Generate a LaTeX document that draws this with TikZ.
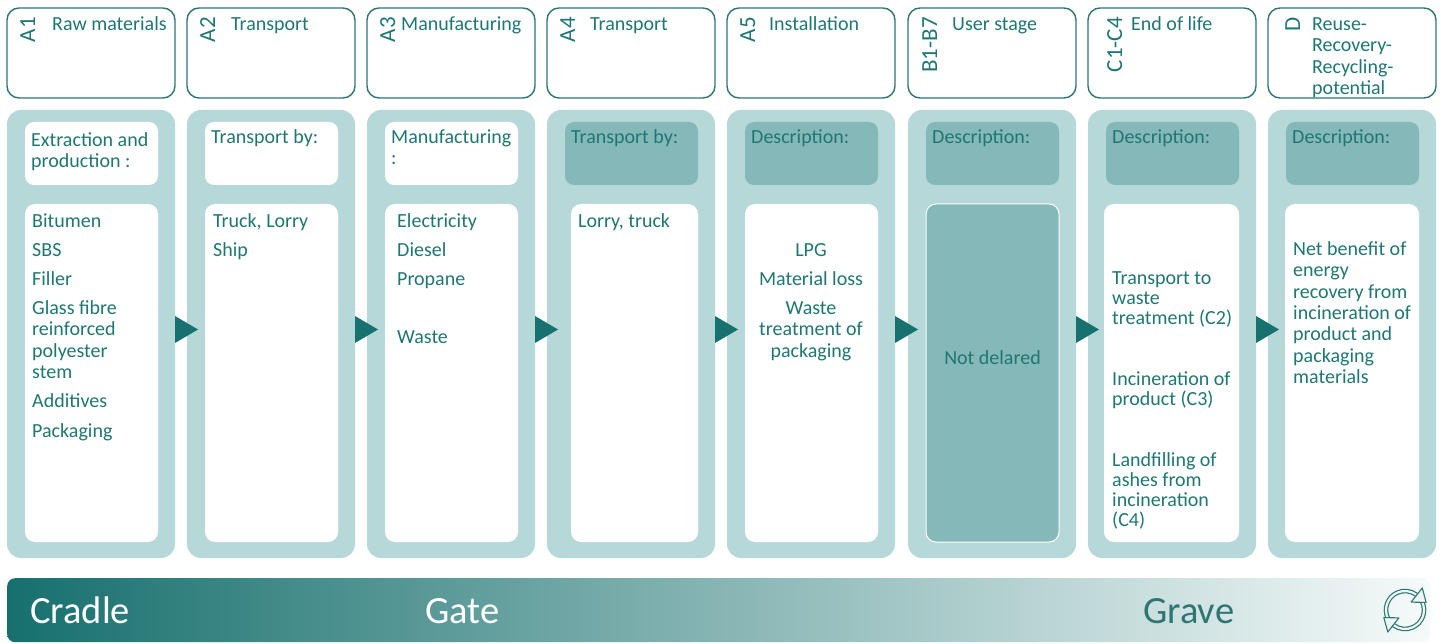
\documentclass[tikz,border=0pt]{standalone}
\usepackage{fontspec}
\setmainfont{Carlito}
\usetikzlibrary{calc}
\definecolor{tealtxt}{HTML}{1F7773}
\definecolor{tealline}{HTML}{2E7673}
\definecolor{panelc}{HTML}{B7D8D8}
\definecolor{darkbox}{HTML}{85B8B8}
\definecolor{arrowc}{HTML}{17716E}
\definecolor{barleft}{HTML}{17706E}
\definecolor{barright}{HTML}{F6FAFA}
\definecolor{iconbg}{HTML}{EEF5F5}
\newcommand\fsz{\fontsize{20}{21.3}\selectfont}
\newcommand\fszc{\fontsize{20}{20.2}\selectfont}
\newcommand\fsr{\fontsize{23}{24}\selectfont}
\newcommand\fsb{\fontsize{38.5}{40}\selectfont}
\begin{document}
\begin{tikzpicture}[x=1pt,y=-1pt,
  hdr/.style={draw=tealline, line width=1.4pt, fill=white, rounded corners=12pt,
    minimum width=168pt, minimum height=90pt, inner sep=0pt, outer sep=0pt, anchor=north west},
  panel/.style={fill=panelc, rounded corners=14pt, minimum width=168pt, minimum height=448pt,
    inner sep=0pt, outer sep=0pt, anchor=north west},
  tbox/.style={rounded corners=9pt, minimum width=133pt, minimum height=63pt,
    inner sep=0pt, outer sep=0pt, anchor=north west},
  cbox/.style={rounded corners=10pt, minimum height=338pt,
    inner sep=0pt, outer sep=0pt, anchor=north west},
  txt/.style={font=\fsz, text=tealtxt, inner sep=0pt, align=left, anchor=north west},
  rlab/.style={font=\fsr, text=tealtxt, inner sep=0pt, rotate=90, anchor=base east},
  bigtxt/.style={font=\fsb, inner sep=0pt, anchor=base west},
  tri/.style={fill=arrowc}
]
\useasboundingbox (0,0) rectangle (1444,644);
\fill[white] (0,0) rectangle (1444,644);

% headers, panels, boxes
\foreach \i/\L/\tf/\co/\cf/\cd in {1/7/white/18/white/none, 2/187/white/18/white/none,
   3/367/white/18/white/none, 4/547/darkbox/24/white/none, 5/727/darkbox/18/white/none,
   6/908/darkbox/18/darkbox/white, 7/1088/darkbox/16/white/none, 8/1268/darkbox/17/white/none}{
  \node[hdr] (h\i) at (\L,8) {};
  \node[panel] (p\i) at (\L,110) {};
  \node[tbox, fill=\tf] (t\i) at (\L+18,122) {};
  \pgfmathsetmacro{\cw}{151-\co}
  \node[cbox, fill=\cf, draw=\cd, line width=1pt, minimum width=\cw pt] (c\i) at (\L+\co,204) {};
}

% arrows between panels
\foreach \i [evaluate=\i as \j using int(\i+1)] in {1,...,7}{
  \fill[tri] ($(p\i.east)+(0,-4.5)$) coordinate (a\i) ++(0,-13.5) -- ++(23,13.5) -- ++(-23,13.5) -- cycle;
}

% header labels
\node[rlab] (r1) at (35,17) {A1};
\node[rlab] (r2) at (215,17) {A2};
\node[rlab] (r3) at (395,17) {A3};
\node[rlab] (r4) at (575,17) {A4};
\node[rlab] (r5) at (755,17) {A5};
\node[rlab] (r6) at (937,17) {B1-B7};
\node[rlab] (r7) at (1122,17) {C1-C4};
\node[rlab] (r8) at (1300,17) {D};

\node[txt] (n1) at (52,15.4) {\strut Raw materials};
\node[txt] (n2) at (231,15.4) {\strut Transport};
\node[txt] (n3) at (401,15.4) {\strut Manufacturing};
\node[txt] (n4) at (590,15.4) {\strut Transport};
\node[txt] (n5) at (769,15.4) {\strut Installation};
\node[txt] (n6) at (952,15.4) {\strut User stage};
\node[txt] (n7) at (1131,15.4) {\strut End of life};
\node[txt] (n8) at (1312,15.5) {\strut Reuse-\\Recovery-\\Recycling-\\potential};

% title box texts
\node[txt] (d1) at (31,131.5) {\strut Extraction and\\production :};
\node[txt] (d2) at (211,128.5) {\strut Transport by:};
\node[txt] (d3) at (391,128.5) {\strut Manufacturing\\:};
\node[txt] (d4) at (571,128.5) {\strut Transport by:};
\node[txt] (d5) at (751,128.5) {\strut Description:};
\node[txt] (d6) at (932,128.5) {\strut Description:};
\node[txt] (d7) at (1112,128.5) {\strut Description:};
\node[txt] (d8) at (1292,128.5) {\strut Description:};

% content texts
\node[txt] (e1) at (32,212.5) {\strut Bitumen\\[7.7pt]SBS\\[7.7pt]Filler\\[7.7pt]Glass fibre\\reinforced\\polyester\\stem\\[7.7pt]Additives\\[8.5pt]Packaging};
\node[txt] (e2) at (213,212.5) {\strut Truck, Lorry\\[7.7pt]Ship};
\node[txt] (e3) at (397,212.5) {\strut Electricity\\[7.7pt]Diesel\\[7.7pt]Propane\\[7.7pt]\\[7.7pt]Waste};
\node[txt] (e4) at (578,212.5) {\strut Lorry, truck};
\node[txt, align=center, anchor=north] (e5) at (811,241.5) {\strut LPG\\[7.7pt]Material loss\\[7.7pt]Waste\\treatment of\\packaging};
\node[txt, anchor=base] (e6) at (c6.center |- 0,365) {Not delared};
\node[txt, font=\fszc] (e7) at (1112,269.9) {\strut Transport to\\waste\\treatment (C2)\\ \\ \\Incineration of\\product (C3)\\ \\ \\Landfilling of\\ashes from\\incineration\\(C4)};
\node[txt] (e8) at (1293,240.5) {\strut Net benefit of\\energy\\recovery from\\incineration of\\product and\\packaging\\materials};

% bottom bar
\node[anchor=north west, minimum width=1423pt, minimum height=64pt, inner sep=0pt,
  rounded corners=8pt, left color=barleft, right color=barright] (bar) at (7,578) {};
\node[bigtxt, text=white] (cradle) at (30,623) {Cradle};
\node[bigtxt, text=white] (gate) at (425,623) {Gate};
\node[bigtxt, text=tealline] (grave) at (1143,623) {Grave};

% recycle icon
\begin{scope}[shift={(1405,610)}, x=1pt, y=1pt]
  \coordinate (ic) at (0,0);
  \draw[tealline, line width=4.6pt] (205:19) arc (205:52:19);
  \draw[tealline, line width=4.6pt] (25:19) arc (25:-128:19);
  \draw[iconbg, line width=2.2pt] (205:19) arc (205:52:19);
  \draw[iconbg, line width=2.2pt] (25:19) arc (25:-128:19);
  \filldraw[draw=tealline, fill=iconbg, line width=1.1pt, line join=round]
    ($(52:19)+(52:9)$) -- ($(52:19)+(-38:12)$) -- ($(52:19)+(232:9)$) -- cycle;
  \filldraw[draw=tealline, fill=iconbg, line width=1.1pt, line join=round]
    ($(-128:19)+(-128:9)$) -- ($(-128:19)+(142:12)$) -- ($(-128:19)+(52:9)$) -- cycle;
\end{scope}
\end{tikzpicture}
\end{document}
